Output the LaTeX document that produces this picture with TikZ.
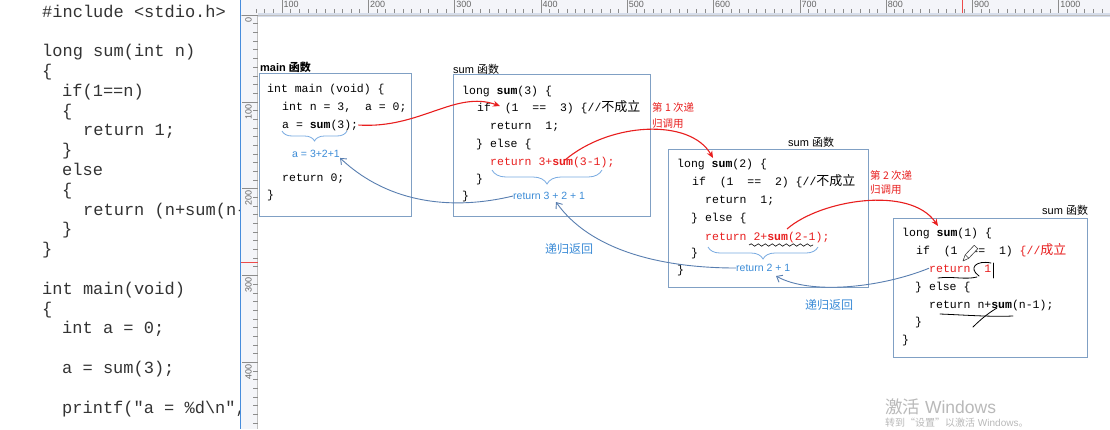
\documentclass[tikz,border=0pt]{standalone}
\usepackage{fontspec}
\setmainfont{Liberation Sans}
\newfontfamily\cjk{Noto Sans CJK SC}
\newfontfamily\mono{Liberation Mono}
\usetikzlibrary{arrows.meta,decorations.pathreplacing,decorations.pathmorphing}

\definecolor{boxc}{RGB}{128,160,196}
\definecolor{bluet}{RGB}{60,140,215}
\definecolor{bluea}{RGB}{88,126,176}
\definecolor{bracec}{RGB}{120,170,225}
\definecolor{redc}{RGB}{232,30,30}
\definecolor{rulerbg}{RGB}{244,245,249}
\definecolor{rulerband}{RGB}{214,221,234}
\definecolor{rulerblue}{RGB}{70,140,220}
\definecolor{wmark}{RGB}{185,185,185}

\tikzset{
  codeL/.style={anchor=base west, inner sep=0pt, text=black!80,
    font=\mono\fontsize{17}{20}\selectfont},
  code/.style={anchor=base west, inner sep=0pt, text=black,
    font=\mono\fontsize{11.5}{14}\selectfont},
  rcode/.style={code, text=redc},
  fbox/.style={draw=boxc, line width=1pt, anchor=north west, inner sep=0pt},
  flabel/.style={anchor=west, inner sep=0pt, font=\fontsize{11}{13}\selectfont},
  bsmall/.style={anchor=west, inner sep=0pt, text=bluet, font=\fontsize{10.5}{12}\selectfont},
  blabel/.style={anchor=west, inner sep=0pt, text=bluet, font=\cjk\fontsize{12}{14}\selectfont},
  rlabel/.style={anchor=west, inner sep=0pt, text=redc, font=\cjk\fontsize{10.5}{12}\selectfont},
  redarr/.style={draw=redc, line width=1.1pt, -{Stealth[length=7pt,width=6pt]}},
  bluearr/.style={draw=bluea, line width=0.9pt, -{Straight Barb[length=5pt,width=8pt]}},
  cbrace/.style={draw=bracec, line width=0.8pt, decorate,
    decoration={brace, mirror, amplitude=#1}},
  hand/.style={draw=black, line width=0.8pt, line cap=round},
  rtick/.style={draw=black!45, line width=0.5pt},
  rnum/.style={inner sep=0pt, text=black!60, font=\fontsize{9}{9}\selectfont},
}
\newcommand{\cj}[1]{{\cjk\fontsize{13}{14}\selectfont #1}}

\begin{document}
\begin{tikzpicture}[x=1pt,y=-1pt]
\useasboundingbox (0,0) rectangle (1110,429);
\fill[white] (0,0) rectangle (1110,429);

% ---------- left code panel ----------
\begin{scope}
\clip (0,0) rectangle (239.5,429);
\node[codeL] (L0)  at (42,17)    {\#include <stdio.h>};
\node[codeL] (L2)  at (42,56.6)  {long sum(int n)};
\node[codeL] (L3)  at (42,76.4)  {\{};
\node[codeL] (L4)  at (62,96.2)  {if(1==n)};
\node[codeL] (L5)  at (62,116)   {\{};
\node[codeL] (L6)  at (83,135.8) {return 1;};
\node[codeL] (L7)  at (62,155.6) {\}};
\node[codeL] (L8)  at (62,175.4) {else};
\node[codeL] (L9)  at (62,195.2) {\{};
\node[codeL] (L10) at (83,215)   {return (n+sum(n-1));};
\node[codeL] (L11) at (62,234.8) {\}};
\node[codeL] (L12) at (42,254.6) {\}};
\node[codeL] (L14) at (42,294.2) {int main(void)};
\node[codeL] (L15) at (42,314)   {\{};
\node[codeL] (L16) at (62,333.8) {int a = 0;};
\node[codeL] (L18) at (62,373.4) {a = sum(3);};
\node[codeL] (L20) at (62,413)   {printf("a = \%d\textbackslash n", a);};
\end{scope}

% ---------- rulers ----------
\fill[rulerbg] (241,0) rectangle (1110,17);
\fill[rulerband] (258,12.5) rectangle (1110,17);
\foreach \u in {70,80,...,1060} {
  \pgfmathsetmacro\xx{195.7+0.863*\u}
  \draw[rtick] (\xx,9) -- (\xx,12.5);
}
\foreach \u in {100,200,...,1000} {
  \pgfmathsetmacro\xx{195.7+0.863*\u}
  \draw[rtick] (\xx,0) -- (\xx,12.5);
  \node[rnum, anchor=base west] (rt\u) at (\xx+1.5,7) {\u};
}
\draw[redc!80, line width=0.8pt] (962,0) -- (962,12.5);

\fill[rulerbg] (241,15) rectangle (257.5,429);
\draw[black!25] (257.5,15) -- (257.5,429);
\draw[black!25] (241,15) -- (1110,15);
\foreach \u in {0,10,...,470} {
  \pgfmathsetmacro\yy{15+0.868*\u}
  \draw[rtick] (253,\yy) -- (257.5,\yy);
}
\foreach \u in {0,100,...,400} {
  \pgfmathsetmacro\yy{15+0.868*\u}
  \draw[rtick] (242,\yy) -- (257.5,\yy);
  \node[rnum, rotate=90, anchor=east] (rv\u) at (248.5,\yy+2) {\u};
}
\draw[redc!80, line width=0.8pt] (241,262) -- (257.5,262);
\draw[rulerblue, line width=1.2pt] (240.3,0) -- (240.3,429);

% ---------- main box ----------
\node[fbox, minimum width=152pt, minimum height=143pt] (mainbox) at (259,73) {};
\node[flabel, font=\bfseries\fontsize{11}{13}\selectfont] (mainlbl) at (260,67) {main {\cjk\bfseries 函数}};
\node[code] (ma1) at (267,92)  {int main (void) \{};
\node[code] (ma2) at (282,110) {int n = 3,~~a = 0;};
\node[code] (ma3) at (282,128) {a = \textbf{sum}(3);};
\draw[cbrace=10pt] (282,131) -- (347,131);
\node[bsmall] (a321) at (292,154) {a = 3+2+1};
\node[code] (ma4) at (282,181) {return 0;};
\node[code] (ma5) at (267,198) {\}};

% ---------- sum(3) box ----------
\node[fbox, minimum width=197pt, minimum height=142pt] (box3) at (453,74) {};
\node[flabel] (lbl3) at (453,69) {sum {\cjk 函数}};
\node[code] (s31) at (462,94)  {long \textbf{sum}(3) \{};
\node[code] (s32) at (477,111) {if~~(1~~==~~3)~\{//\cj{不成立}};
\node[code] (s33) at (490,129) {return~~1;};
\node[code] (s34) at (476,147) {\} else \{};
\node[rcode] (s35) at (490,165) {return 3+\textbf{sum}(3-1);};
\node[code] (s36) at (476,182) {\}};
\node[code] (s37) at (462,199) {\}};
\draw[cbrace=14pt] (492,170) -- (602,170);
\node[bsmall] (rb3) at (513,196) {return 3 + 2 + 1};

% ---------- sum(2) box ----------
\node[fbox, minimum width=200pt, minimum height=138pt] (box2) at (668,149) {};
\node[flabel] (lbl2) at (788,142) {sum {\cjk 函数}};
\node[code] (s21) at (677,167) {long \textbf{sum}(2) \{};
\node[code] (s22) at (692,185) {if~~(1~~==~~2)~\{//\cj{不成立}};
\node[code] (s23) at (705,203) {return~~1;};
\node[code] (s24) at (691,221) {\} else \{};
\node[rcode] (s25) at (705,240) {return 2+\textbf{sum}(2-1);};
\node[code] (s26) at (691,256) {\}};
\node[code] (s27) at (677,273) {\}};
\draw[black, line width=0.6pt, decorate, decoration={snake, amplitude=1.2pt, segment length=7pt}] (749,245) -- (813,245);
\draw[cbrace=12pt] (708,247) -- (818,247);
\node[bsmall] (rb2) at (736,268) {return 2 + 1};

% ---------- sum(1) box ----------
\node[fbox, minimum width=194pt, minimum height=139pt] (box1) at (893,218) {};
\node[flabel] (lbl1) at (1042,210) {sum {\cjk 函数}};
\node[code] (s11) at (902,236) {long \textbf{sum}(1) \{};
\node[code] (s12) at (916,254) {if~~(1~~==~~1)~\textcolor{redc}{\{//\cj{成立}}};
\node[rcode] (s13) at (929,272) {return~~1};
\node[code] (s14) at (915,290) {\} else \{};
\node[code] (s15) at (929,308) {return n+\textbf{sum}(n-1);};
\node[code] (s16) at (915,325) {\}};
\node[code] (s17) at (902,343) {\}};
% handwritten marks
\draw[hand] (938,278) .. controls (952,276) and (965,280) .. (977,277);
\draw[hand] (991,263) .. controls (976,260) and (968,268) .. (979,276);
\draw[hand] (993,263) -- (993,278);
\draw[hand] (940,314) .. controls (965,315) and (990,317) .. (1013,316);
\draw[hand] (973,327) .. controls (982,318) and (990,312) .. (997,308);
% pencil cursor
\draw[black!75, fill=white, line width=0.6pt, line join=round]
  (963,261) -- (968.8,258.2) -- (977.8,248.7) -- (974.2,245.3) -- (965.2,254.8) -- cycle;
\draw[black!75, line width=0.6pt] (965.2,254.8) -- (968.8,258.2);

% ---------- red call arrows ----------
\coordinate (t1) at (500,106);
\coordinate (c2) at (565,160);
\coordinate (t2) at (713,158);
\coordinate (c3) at (787,229);
\coordinate (t3) at (938,226);
\draw[redarr] (ma3.east) .. controls (420,129) and (455,90) .. (t1);
\draw[redarr] (c2) .. controls (610,122) and (690,118) .. (t2);
\draw[redarr] (c3) .. controls (820,200) and (910,185) .. (t3);
\node[rlabel] (call1a) at (652,108) {第 1 次递};
\node[rlabel] (call1b) at (652,124) {归调用};
\node[rlabel] (call2a) at (870,175) {第 2 次递};
\node[rlabel] (call2b) at (870,190) {归调用};

% ---------- blue return arrows ----------
\coordinate (e3) at (556,202);
\coordinate (e2) at (776,276);
\draw[bluearr] (rb3.west) .. controls (455,210) and (390,205) .. (a321.south east);
\draw[bluearr] (rb2.west) .. controls (660,268) and (590,250) .. (e3);
\draw[bluearr] (s13.west) .. controls (880,288) and (810,295) .. (e2);
\node[blabel] (ret1) at (545,249) {递归返回};
\node[blabel] (ret2) at (805,305) {递归返回};

% ---------- watermark ----------
\node[anchor=west, inner sep=0pt, text=wmark, font=\fontsize{17.5}{20}\selectfont] (wm1) at (885,407) {{\cjk 激活} Windows};
\node[anchor=west, inner sep=0pt, text=wmark, font=\fontsize{10}{12}\selectfont] (wm2) at (885,422.5) {{\cjk 转到“设置”以激活} Windows{\cjk 。}};
\end{tikzpicture}
\end{document}
